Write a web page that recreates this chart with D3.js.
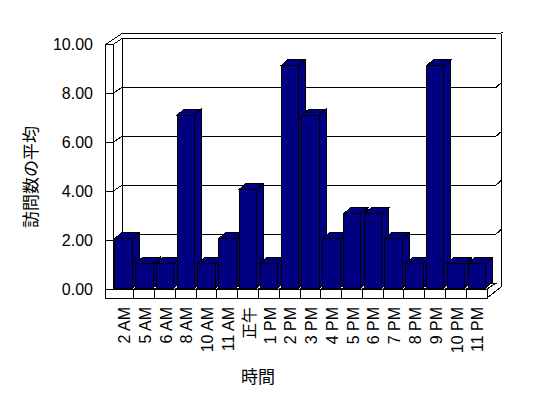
<!DOCTYPE html>
<html><head><meta charset="utf-8">
<script src="https://cdn.jsdelivr.net/npm/d3@7"></script>
<style>
html,body{margin:0;padding:0;background:#fff;}
text{font-family:"Liberation Sans","Noto Sans CJK JP",sans-serif;fill:#000;}
line,polygon{shape-rendering:crispEdges;}
</style></head>
<body><svg id="c" width="548" height="398"></svg>
<script>
const categories = ["2 AM","5 AM","6 AM","8 AM","10 AM","11 AM","正午","1 PM","2 PM","3 PM","4 PM","5 PM","6 PM","7 PM","8 PM","9 PM","10 PM","11 PM"];
const values = [2,1,1,7,1,2,4,1,9,7,2,3,3,2,1,9,1,1];
const yTicks = [0,2,4,6,8,10];
const yTickLabels = ["0.00","2.00","4.00","6.00","8.00","10.00"];
const yTitle = "訪問数の平均";
const xTitle = "時間";

const svg = d3.select("#c");
const g = svg.append("g");
// geometry
const backL = 122, backR = 496, frontL = 113, frontR = 487;
const dX = 9, dY = 6;              // back -> front offset (-dX, +dY)
const leftOuter = 105.5, floorBottom = 298, outerR = 501, outerTop = 33.5;
const yBack = d3.scaleLinear().domain([0,10]).range([283,38.5]);
const yBar = d3.scaleLinear().domain([0,10]).range([288,41]);
const x = d3.scaleBand().domain(categories).range([frontL, frontR]);
const bw = x.bandwidth();
const barOff = 1.8, barW = bw*0.84, bdx = 7, bdy = 6;

const st = s => s.attr("stroke","#000").attr("stroke-width",1);
const line = (x1,y1,x2,y2) => st(g.append("line").attr("x1",x1).attr("y1",y1).attr("x2",x2).attr("y2",y2));
const poly = pts => st(g.append("polygon").attr("points",pts.map(p=>p.join(",")).join(" ")).attr("fill","#fff"));

const y0 = yBack(0), y10 = yBack(10);
// back wall
poly([[backL,y10],[backR,y10],[backR,y0],[backL,y0]]);
poly([[backR,y10],[outerR,outerTop],[outerR,287],[backR,y0]]).attr("stroke","none");
line(backL,outerTop,outerR,outerTop);
line(outerR,outerTop,outerR,287);
line(outerR-1,outerTop+0.5,outerR+1.5,outerTop-1.5);
// left wall
poly([[frontL,y0+dY],[frontL,y10+dY],[backL,y10],[backL,y0]]);
poly([[leftOuter,y10+dY],[frontL,y10+dY],[frontL,floorBottom],[leftOuter,floorBottom]]);
line(leftOuter,y10+dY,backL,outerTop);
// floor
poly([[frontL,y0+dY],[frontR,y0+dY],[backR,y0],[backL,y0]]);
poly([[leftOuter,y0+dY],[frontR,y0+dY],[frontR,floorBottom],[leftOuter,floorBottom]]);
line(frontR,floorBottom,outerR,287);
line(frontR,y0+dY,backR,y0);

// gridlines
yTicks.filter(v=>v>0 && v<10).forEach(v=>{
  const yb = yBack(v);
  line(backL,yb,backR,yb);
  line(frontL,yb+dY,backL,yb);
  line(leftOuter,yb+dY,frontL,yb+dY);
  line(backR,yb,outerR,yb-4.5);
});
// floor dividers
categories.slice(1).forEach(c=>{
  const xx = x(c);
  line(xx,y0+dY,xx,floorBottom);
  line(xx,y0+dY,xx+dX,y0);
});

// bars
categories.forEach((c,i)=>{
  const v = values[i];
  const xl = x(c)+barOff, xr = xl+barW;
  const yt = yBar(v), yb = yBar(0);
  const face = pts => st(g.append("polygon").attr("points",pts.map(p=>p.join(",")).join(" ")).attr("fill","#000080"));
  face([[xr,yt],[xr+bdx,yt-bdy],[xr+bdx,yb-bdy],[xr,yb]]);
  face([[xl,yt],[xl+bdx,yt-bdy],[xr+bdx,yt-bdy],[xr,yt]]);
  face([[xl,yt],[xr,yt],[xr,yb],[xl,yb]]);
});

// y tick labels
yTicks.forEach((v,i)=>{
  g.append("text").attr("x",93).attr("y",yBack(v)+dY).attr("dy","0.36em")
   .attr("text-anchor","end").attr("font-size",16).text(yTickLabels[i]);
});
// x labels
categories.forEach(c=>{
  const cx = x(c)+bw/2+1;
  g.append("text").attr("transform",`translate(${cx},307) rotate(-90)`)
   .attr("text-anchor","end").attr("dy","0.36em").attr("font-size",16).text(c);
});
// titles
g.append("text").attr("transform","translate(31,177) rotate(-90)")
 .attr("text-anchor","middle").attr("dy","0.36em").attr("font-size",17).text(yTitle);
g.append("text").attr("x",258).attr("y",377).attr("dy","0.36em")
 .attr("text-anchor","middle").attr("font-size",17).text(xTitle);
</script></body></html>
